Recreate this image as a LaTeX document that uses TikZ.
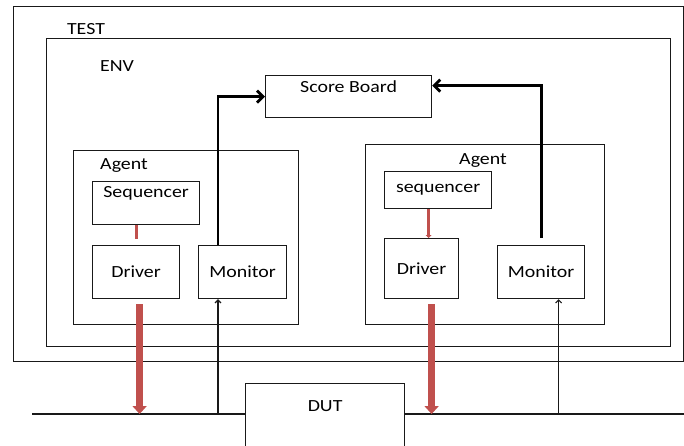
\documentclass[tikz,border=0pt]{standalone}
\usepackage{fontspec}
\setmainfont{Carlito}[FakeStretch=1.17]
\usetikzlibrary{arrows.meta}
\definecolor{drvred}{RGB}{192,80,77}

\begin{document}
\begin{tikzpicture}[x=1pt, y=-1pt, font=\fontsize{17}{20}\selectfont,
    box/.style={draw=black!90, line width=1.2pt, rectangle, inner sep=0pt, anchor=north west},
    feed/.style={line width=2.8pt, -{Straight Barb[length=6pt,width=12pt]}},
    probe/.style={line width=1.1pt, black!90, -{Straight Barb[length=3pt,width=6pt]}},
    drive/.style={drvred, line width=7pt, -{Triangle[length=8pt,width=14pt]}},
    seqlink/.style={drvred, line width=2.8pt}]
        \useasboundingbox (0,0) rectangle (684,446);
        \clip (0,0) rectangle (684,446);
        % Test and env
        \node[box, minimum width=670, minimum height=355] (test) at (13,6) {};
        \node (testlbl) at (86,29) {TEST};
        \node[box, minimum width=624, minimum height=308] (env) at (46,38) {};
        \node (envlbl) at (117,66) {ENV};
        % Score board
        \node[box, minimum width=166, minimum height=42] (sb) at (265,75) {};
        \node (sblbl) at ([yshift=-12pt]sb.north) {Score Board};
        % Left agent
        \node[box, minimum width=225, minimum height=174] (agentL) at (73,150) {};
        \node (agentLlbl) at (124,166) {Agent};
        \node[box, minimum width=107, minimum height=43] (seqL) at (92,181) {};
        \node (seqLlbl) at ([yshift=-12pt]seqL.north) {Sequencer};
        \node[box, minimum width=87, minimum height=53] (drvL) at (92,245) {Driver};
        \node[box, minimum width=88, minimum height=53] (monL) at (198,245) {Monitor};
        % Right agent
        \node[box, minimum width=239, minimum height=180] (agentR) at (365,144) {};
        \node (agentRlbl) at (483,161) {Agent};
        \node[box, minimum width=107, minimum height=37] (seqR) at (384,171) {sequencer};
        \node[box, minimum width=74, minimum height=60] (drvR) at (384,238) {Driver};
        \node[box, minimum width=87, minimum height=53] (monR) at (497,245) {Monitor};
        % DUT and bus
        \node[box, minimum width=159, minimum height=90] (dut) at (245,383) {};
        \node (dutlbl) at ([yshift=-23pt]dut.north) {DUT};
        \coordinate (busW) at (32,414);
        \coordinate (busE) at (684,414);
        \draw[line width=1.2pt, black!90] (busW) -- (busW -| dut.west);
        \draw[line width=1.2pt, black!90] (busE -| dut.east) -- (busE);
        % Sequencer to driver
        \draw[seqlink] (seqL.south -| drvL.north) -- ([yshift=6pt]drvL.north);
        \draw[seqlink, -{Triangle[length=3pt,width=6pt]}] ([xshift=-9.5pt]seqR.south) -- ([xshift=-9.5pt]seqR.south |- drvR.north);
        % Driver to DUT
        \draw[drive] ([shift={(3.5pt,-5pt)}]drvL.south) -- ([xshift=3.5pt]drvL.south |- busW);
        \draw[drive] ([shift={(10pt,-5pt)}]drvR.south) -- ([xshift=10pt]drvR.south |- busW);
        % DUT to monitor
        \coordinate (probeL) at ([xshift=20pt]monL.south west);
        \coordinate (probeR) at ([xshift=17.5pt]monR.south);
        \draw[probe] (busW -| probeL) -- (probeL);
        \draw[probe] (busE -| probeR) -- (probeR);
        % Monitor to score board
        \draw[feed] ([xshift=20pt]monL.north west) |- (sb.west);
        \draw[feed] ([yshift=7pt]monR.north) |- ([yshift=11pt]sb.east);
    \end{tikzpicture}
\end{document}
